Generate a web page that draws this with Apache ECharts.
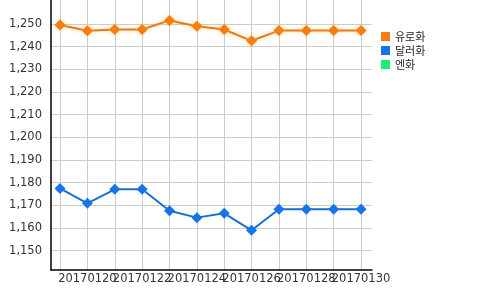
<!DOCTYPE html>
<html><head><meta charset="utf-8">
<script src="https://cdn.jsdelivr.net/npm/echarts@6/dist/echarts.min.js"></script>
<style>html,body{margin:0;padding:0;background:#fff}#c{width:500px;height:290px}</style>
</head><body><div id="c"></div>
<script>
const categories = ['20170119','20170120','20170121','20170122','20170123','20170124','20170125','20170126','20170127','20170128','20170129','20170130'];
const seriesNames = ['유로화','달러화','엔화'];
const euro = [1249.6, 1247.0, 1247.6, 1247.6, 1251.6, 1249.0, 1247.6, 1242.6, 1247.1, 1247.1, 1247.1, 1247.1];
const dollar = [1177.5, 1170.9, 1177.1, 1177.1, 1167.6, 1164.6, 1166.5, 1159.0, 1168.3, 1168.3, 1168.3, 1168.3];
const yen = [];
const yTicks = [1150, 1160, 1170, 1180, 1190, 1200, 1210, 1220, 1230, 1240, 1250];
const xLabelIdxA = [1, 5, 9];
const xLabelIdxB = [3, 7, 11];

const idx = categories.map((c, i) => i);
const pairs = arr => arr.map((v, i) => [i, v]);
const labelStyle = customValues => ({customValues, formatter: v => categories[Math.round(v)],
  fontFamily: 'DejaVu Sans', fontSize: 11.5, color: '#333', margin: 3,
  showMinLabel: true, showMaxLabel: true, hideOverlap: false});
const chart = echarts.init(document.getElementById('c'), null, {renderer: 'canvas'});
chart.setOption({
  animation: false,
  color: ['#F57D14', '#1474E8', '#1DEE78'],
  grid: {left: 51, right: 128, top: 0, bottom: 20, containLabel: false},
  legend: {
    orient: 'vertical', left: 376, top: 25, icon: 'rect',
    itemWidth: 9, itemHeight: 9, itemGap: 1,
    textStyle: {fontFamily: '"Noto Sans CJK KR", sans-serif', fontSize: 11, color: '#222', lineHeight: 13},
    data: seriesNames
  },
  xAxis: [{
    type: 'value', min: -0.33, max: 11.4, position: 'bottom',
    axisLine: {show: true, onZero: false, lineStyle: {color: '#000', width: 1.5}},
    axisTick: {show: false, customValues: idx},
    splitLine: {show: true, lineStyle: {color: '#cccccc', width: 1}},
    axisLabel: labelStyle(xLabelIdxA)
  }, {
    type: 'value', min: -0.33, max: 11.4, position: 'bottom', offset: 0,
    axisLine: {show: false, onZero: false},
    axisTick: {show: false, customValues: idx},
    splitLine: {show: false},
    axisLabel: labelStyle(xLabelIdxB)
  }],
  yAxis: {
    type: 'value', min: 1141.5, max: 1260.6,
    axisLine: {show: true, onZero: false, lineStyle: {color: '#000', width: 1.5}},
    axisTick: {show: false, customValues: yTicks},
    splitLine: {show: true, lineStyle: {color: '#cccccc', width: 1}},
    axisLabel: {customValues: yTicks, formatter: v => Math.round(v).toLocaleString('en-US'),
      fontFamily: 'DejaVu Sans', fontSize: 11.5, color: '#333', margin: 9}
  },
  series: [
    {name: seriesNames[0], type: 'line', data: pairs(euro), symbol: 'diamond', symbolSize: 11,
     lineStyle: {width: 2, color: '#E57A1E', shadowBlur: 4, shadowColor: 'rgba(255,190,90,0.6)'},
     itemStyle: {color: '#F57D14', shadowBlur: 4, shadowColor: 'rgba(255,200,100,0.7)'}},
    {name: seriesNames[1], type: 'line', data: pairs(dollar), symbol: 'diamond', symbolSize: 11,
     lineStyle: {width: 2, color: '#1B6FD0'},
     itemStyle: {color: '#1474E8'}},
    {name: seriesNames[2], type: 'line', data: pairs(yen), symbol: 'diamond', symbolSize: 11,
     itemStyle: {color: '#1DEE78'}, lineStyle: {color: '#1DEE78'}}
  ]
});
</script></body></html>
